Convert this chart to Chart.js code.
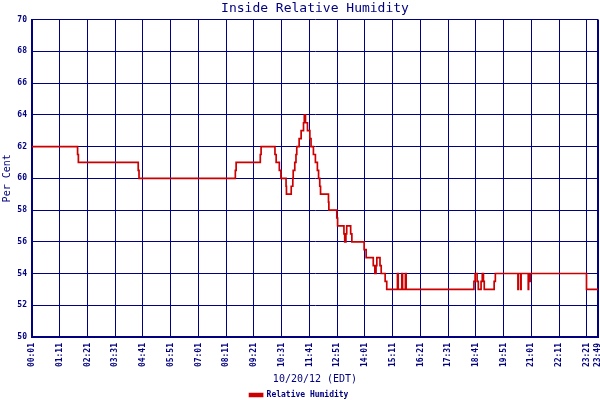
<!DOCTYPE html>
<html>
<head>
<meta charset="utf-8">
<script src="https://cdn.jsdelivr.net/npm/chart.js@4/dist/chart.umd.min.js"></script>
<style>
  html, body { margin: 0; padding: 0; background: #ffffff; }
  #wrap { width: 600px; height: 400px; }
</style>
</head>
<body>
<div id="wrap"><canvas id="c" width="600" height="400"></canvas></div>
<script>
// ---- data ----
const chartTitle = 'Inside Relative Humidity';
const xTitle = '10/20/12 (EDT)';
const yTitle = 'Per Cent';
const seriesName = 'Relative Humidity';

const tickLabels = ['00:01','01:11','02:21','03:31','04:41','05:51','07:01','08:11','09:21','10:31',
  '11:41','12:51','14:01','15:11','16:21','17:31','18:41','19:51','21:01','22:11','23:21','23:49'];

const times = ['00:01','01:56','01:58','04:29','04:31','08:34','08:36','09:37','09:39','10:14',
  '10:17','10:25','10:29','10:42','10:43','10:55','10:59','11:00','11:04','11:07',
  '11:09','11:15','11:20','11:26','11:28','11:31','11:36','11:42','11:45','11:51',
  '11:56','12:01','12:04','12:07','12:09','12:29','12:30','12:50','12:52','13:08',
  '13:10','13:13','13:15','13:25','13:28','13:59','14:04','14:22','14:26','14:29',
  '14:31','14:39','14:42','14:52','14:56','15:23','15:25','15:34','15:36','15:43',
  '15:45','18:36','18:39','18:44','18:47','18:54','18:57','19:00','19:02','19:27',
  '19:30','20:27','20:28','20:34','20:35','20:53','20:54','20:57','20:58','23:20','23:49'];

const humidity = [62,61.5,61,60.5,60,60.5,61,61.5,62,61.5,
  61,60.5,60,59.5,59,59.5,60,60.5,61,61.5,
  62,62.5,63,63.5,64,63.5,63,62.5,62,61.5,
  61,60.5,60,59.5,59,58.5,58,57.5,57,56.5,
  56,56.5,57,56.5,56,55.5,55,54.5,54,54.5,
  55,54.5,54,53.5,53,54,53,54,53,54,
  53,53.5,54,53.5,53,53.5,54,53.5,53,53.5,
  54,53,54,53,54,53,54,53.5,54,53,53];

const yMin = 50, yMax = 70, yStep = 2;

// ---- helpers ----
const NAVY = '#000080';
const RED = '#cc0000';
const toMin = s => { const [h, m] = s.split(':').map(Number); return h * 60 + m; };
const tickValues = tickLabels.map(toMin);
const points = times.map((t, i) => ({ x: toMin(t), y: humidity[i] }));

new Chart(document.getElementById('c'), {
  type: 'line',
  data: {
    datasets: [{
      label: seriesName,
      data: points,
      borderColor: RED,
      backgroundColor: RED,
      borderWidth: 1.7,
      pointRadius: 0,
      stepped: true,
      fill: false
    }]
  },
  options: {
    responsive: false,
    animation: false,
    layout: { padding: { top: 0, right: 2, bottom: -9, left: 0 } },
    plugins: {
      title: {
        display: true,
        text: chartTitle,
        color: NAVY,
        fullSize: false,
        font: { family: 'DejaVu Sans Mono', size: 13, weight: 'normal' },
        padding: { top: 1, bottom: 3 }
      },
      legend: {
        position: 'bottom',
        labels: {
          color: NAVY,
          boxWidth: 13,
          boxHeight: 3,
          padding: 2,
          font: { family: 'DejaVu Sans Mono', size: 8, weight: 'bold' }
        }
      },
      tooltip: { enabled: false }
    },
    scales: {
      x: {
        type: 'linear',
        min: tickValues[0],
        max: tickValues[tickValues.length - 1],
        afterBuildTicks: s => { s.ticks = tickValues.map(v => ({ value: v })); },
        afterFit: s => { s.height = 52; s.paddingLeft = 0; s.paddingRight = 0; },
        ticks: {
          autoSkip: false,
          maxRotation: 90,
          minRotation: 90,
          padding: 6,
          color: NAVY,
          font: { family: 'DejaVu Sans Mono', size: 8, weight: 'bold' },
          callback: (v, i) => tickLabels[i]
        },
        grid: {
          color: NAVY,
          drawTicks: false,
          lineWidth: c => (c.index === tickValues.length - 1 ? 2 : 1)
        },
        border: { color: NAVY, width: 2 },
        title: {
          display: true,
          text: xTitle,
          color: NAVY,
          font: { family: 'DejaVu Sans Mono', size: 10, weight: 'normal' },
          padding: { top: 0, bottom: 4 }
        }
      },
      y: {
        min: yMin,
        max: yMax,
        afterFit: s => { s.width = 32; s.paddingTop = 0; s.paddingBottom = 0; },
        ticks: {
          stepSize: yStep,
          padding: 5,
          color: NAVY,
          font: { family: 'DejaVu Sans Mono', size: 8, weight: 'bold' }
        },
        grid: { color: NAVY, drawTicks: false, lineWidth: 1 },
        border: { color: NAVY, width: 2 },
        title: {
          display: true,
          text: yTitle,
          color: NAVY,
          font: { family: 'DejaVu Sans Mono', size: 10, weight: 'normal' },
          padding: { top: 1, bottom: 0 }
        }
      }
    }
  }
});
</script>
</body>
</html>
